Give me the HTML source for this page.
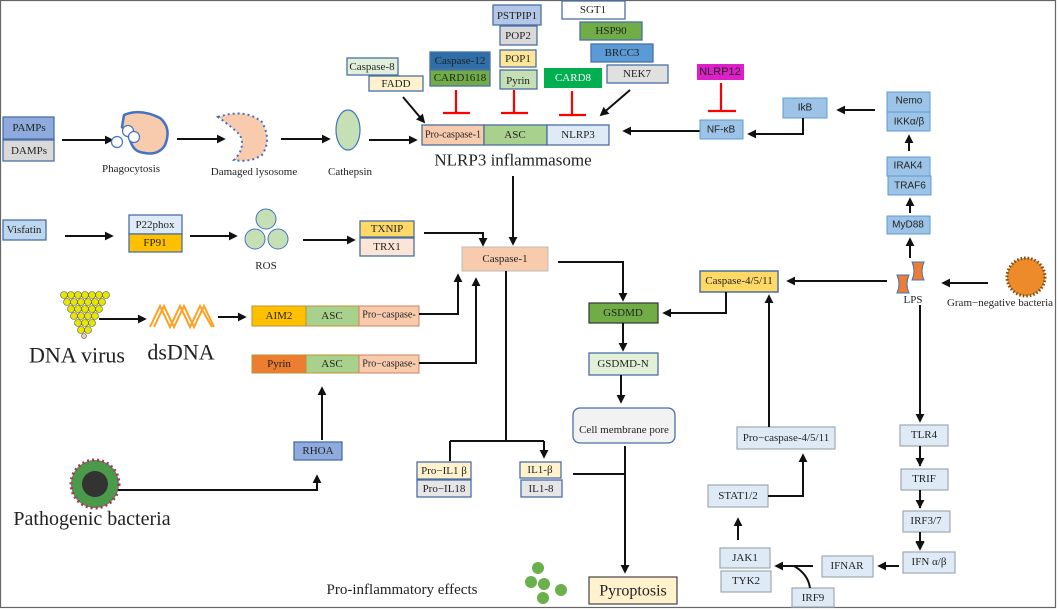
<!DOCTYPE html>
<html><head><meta charset="utf-8"><style>
body{margin:0;background:#fff;}
svg{display:block;}
text{font-family:"Liberation Serif",serif;font-size:11px;fill:#222;text-anchor:middle;dominant-baseline:central;}
.s{font-family:"Liberation Sans",sans-serif;}
.b{stroke:#4a6fa5;stroke-width:1.3;}
.g{stroke:#9aa8b8;stroke-width:1.2;}
.l{stroke:#111;stroke-width:2;fill:none;}
.r{stroke:#f00;stroke-width:2.2;fill:none;}
</style></head><body>
<svg width="1058" height="611" viewBox="0 0 1058 611" xmlns="http://www.w3.org/2000/svg">
<defs>
<marker id="a" viewBox="0 0 10 10" refX="8" refY="5" markerWidth="4.5" markerHeight="4.5" orient="auto"><path d="M0,0L10,5L0,10z" fill="#111"/></marker>
</defs>
<rect x="0.5" y="0.5" width="1055" height="607" fill="#fff" stroke="#666" stroke-width="1.2"/>

<!-- top cluster -->
<rect x="347" y="58" width="51" height="17" fill="#e2efda" class="b"/><text x="372" y="67">Caspase-8</text>
<rect x="369" y="76" width="54" height="15" fill="#fff2cc" class="b"/><text x="396" y="84">FADD</text>
<rect x="430" y="52" width="60" height="17" fill="#2e6fa8" class="b"/><text x="460" y="61">Caspase-12</text>
<rect x="430" y="70" width="60" height="16" fill="#70ad47" class="b"/><text x="460" y="78">CARD1618</text>
<rect x="493" y="5" width="48" height="20" fill="#b4c7e7" class="b"/><text x="517" y="16">PSTPIP1</text>
<rect x="500" y="26" width="37" height="19" fill="#d9d9d9" class="b"/><text x="518" y="36">POP2</text>
<rect x="500" y="50" width="36" height="17" fill="#ffe699" class="b"/><text x="518" y="59">POP1</text>
<rect x="500" y="70" width="37" height="19" fill="#c5e0b4" class="b"/><text x="518" y="81">Pyrin</text>
<rect x="562" y="1" width="63" height="18" fill="#fff" class="b"/><text x="593" y="10">SGT1</text>
<rect x="580" y="22" width="62" height="18" fill="#70ad47" class="b"/><text x="611" y="31">HSP90</text>
<rect x="591" y="44" width="62" height="18" fill="#5b9bd5" class="b"/><text x="622" y="53">BRCC3</text>
<rect x="607" y="65" width="61" height="18" fill="#e0e0e0" class="b"/><text x="637" y="74">NEK7</text>
<rect x="544" y="68" width="58" height="20" fill="#00b050"/><text x="573" y="78" style="fill:#fff">CARD8</text>
<path class="r" d="M456,90V113M443,113H470M514,90V113M501,113H528M572,91V115M559,115H586"/>
<path class="l" d="M403,97L424,122" marker-end="url(#a)"/>
<path class="l" d="M630,90L601,115" marker-end="url(#a)"/>
<rect x="422" y="125" width="62" height="20" fill="#f8cbad" class="b"/><text x="453" y="135" style="font-size:10px">Pro-caspase-1</text>
<rect x="484" y="125" width="63" height="20" fill="#a9d18e" class="b"/><text x="515" y="135">ASC</text>
<rect x="547" y="125" width="62" height="20" fill="#deebf7" class="b"/><text x="578" y="135">NLRP3</text>
<text x="513" y="160" style="font-size:17px">NLRP3 inflammasome</text>
<path class="l" d="M700,131H624" marker-end="url(#a)"/>
<path class="l" d="M513,176V244" marker-end="url(#a)"/>

<!-- row 1 left -->
<rect x="3" y="117" width="51" height="22" fill="#8faadc" class="b"/><text x="29" y="128">PAMPs</text>
<rect x="3" y="140" width="51" height="21" fill="#d9d9d9" class="b"/><text x="29" y="151">DAMPs</text>
<path class="l" d="M62,140H112" marker-end="url(#a)"/>
<path d="M124,115 Q140,108 160,118 Q172,128 165,145 Q158,157 140,152 Q133,150 130,140 Q126,130 122,127 Z" fill="#f8cbad" stroke="#4472c4" stroke-width="2.5"/>
<circle cx="117" cy="142" r="5.5" fill="#fff" stroke="#4472c4" stroke-width="1.2"/>
<circle cx="128" cy="131" r="5.5" fill="#fff" stroke="#4472c4" stroke-width="1.2"/>
<circle cx="134" cy="137" r="5.5" fill="#fff" stroke="#4472c4" stroke-width="1.2"/>
<text x="131" y="169">Phagocytosis</text>
<path class="l" d="M177,139H224" marker-end="url(#a)"/>
<path d="M218,117 Q245,108 262,122 Q272,140 262,155 Q250,163 234,160 Q246,148 240,135 Q232,127 218,117Z" fill="#f8cbad" stroke="#4472c4" stroke-width="2" stroke-dasharray="2,3"/>
<text x="254" y="172">Damaged  lysosome</text>
<path class="l" d="M281,139H329" marker-end="url(#a)"/>
<ellipse cx="348" cy="130" rx="12" ry="20" fill="#c5e0b4" stroke="#4472c4" stroke-width="1.2"/>
<text x="350" y="172">Cathepsin</text>
<path class="l" d="M369,140H416" marker-end="url(#a)"/>

<!-- row 2 -->
<rect x="3" y="220" width="43" height="20" fill="#bdd7ee" class="b"/><text x="24" y="230">Visfatin</text>
<path class="l" d="M65,236H112" marker-end="url(#a)"/>
<rect x="129" y="215" width="53" height="19" fill="#deebf7" class="b"/><text x="155" y="225">P22phox</text>
<rect x="129" y="234" width="53" height="18" fill="#ffc000" class="b"/><text x="155" y="243">FP91</text>
<path class="l" d="M190,236H236" marker-end="url(#a)"/>
<circle cx="266" cy="219" r="10" fill="#c5e0b4" stroke="#4472c4"/>
<circle cx="255" cy="239" r="10" fill="#c5e0b4" stroke="#4472c4"/>
<circle cx="278" cy="239" r="10" fill="#c5e0b4" stroke="#4472c4"/>
<text x="266" y="266">ROS</text>
<path class="l" d="M303,240H354" marker-end="url(#a)"/>
<rect x="360" y="221" width="54" height="16" fill="#ffd966" class="b"/><text x="387" y="229">TXNIP</text>
<rect x="360" y="238" width="54" height="18" fill="#fbe5d6" class="b"/><text x="387" y="247">TRX1</text>
<path class="l" d="M424,233H483V245" marker-end="url(#a)"/>

<!-- Caspase-1 -->
<rect x="462" y="247" width="86" height="24" fill="#f8cbad" stroke="#bbb"/><text x="505" y="259">Caspase-1</text>
<path class="l" d="M558,262H623V300" marker-end="url(#a)"/>
<rect x="589" y="303" width="69" height="20" fill="#70ad47" stroke="#333" stroke-width="1.2"/><text x="623" y="313">GSDMD</text>
<rect x="700" y="271" width="78" height="21" fill="#ffd966" stroke="#4a6fa5" stroke-width="1.5"/><text x="739" y="281">Caspase-4/5/11</text>
<path class="l" d="M726,292V313H664" marker-end="url(#a)"/>
<path class="l" d="M623,323V350" marker-end="url(#a)"/>
<rect x="589" y="353" width="69" height="22" fill="#e2f0d9" class="b"/><text x="623" y="364">GSDMD-N</text>
<path class="l" d="M621,375V402" marker-end="url(#a)"/>
<rect x="573" y="408" width="102" height="35" rx="7" fill="#f2f2f2" class="b"/><text x="624" y="430">Cell membrane  pore</text>
<path class="l" d="M625,446V572" marker-end="url(#a)"/>
<path class="l" d="M573,474H625"/>
<rect x="589" y="577" width="88" height="27" fill="#fff2cc" stroke="#444" stroke-width="1.2"/><text x="633" y="591" style="font-size:16px">Pyroptosis</text>
<path class="l" d="M506,271V441M450,441H544M450,441V460M544,441V457" marker-end="url(#a)"/>
<path class="l" d="M450,441V461"/>
<rect x="417" y="462" width="54" height="17" fill="#fff2cc" class="b"/><text x="444" y="471">Pro−IL1 β</text>
<rect x="417" y="480" width="54" height="17" fill="#e7e6e6" class="b"/><text x="444" y="489">Pro−IL18</text>
<rect x="520" y="462" width="41" height="16" fill="#fff2cc" class="b"/><text x="540" y="470">IL1-β</text>
<rect x="521" y="480" width="41" height="17" fill="#e7e6e6" class="b"/><text x="541" y="489">IL1-8</text>

<!-- AIM2 / Pyrin rows -->
<rect x="252" y="306" width="54" height="20" fill="#ffc000" stroke="#c09030"/><text x="279" y="316">AIM2</text>
<rect x="306" y="306" width="53" height="20" fill="#a9d18e" stroke="#c09030"/><text x="332" y="316">ASC</text>
<rect x="359" y="306" width="60" height="20" fill="#f8cbad" stroke="#d08060"/><text x="389" y="315" style="font-size:10px">Pro−caspase-</text>
<path class="l" d="M419,314H458V275" marker-end="url(#a)"/>
<rect x="252" y="355" width="54" height="18" fill="#ed7d31" stroke="#c09030"/><text x="279" y="364">Pyrin</text>
<rect x="306" y="355" width="53" height="18" fill="#a9d18e" stroke="#c09030"/><text x="332" y="364">ASC</text>
<rect x="359" y="355" width="60" height="18" fill="#f8cbad" stroke="#d08060"/><text x="389" y="364" style="font-size:10px">Pro−caspase-</text>
<path class="l" d="M419,363H476V279" marker-end="url(#a)"/>
<g fill="#e6e600" stroke="#555" stroke-width="0.6">
<circle cx="64" cy="295" r="3.5"/><circle cx="71" cy="295" r="3.5"/><circle cx="78" cy="295" r="3.5"/><circle cx="85" cy="295" r="3.5"/><circle cx="92" cy="295" r="3.5"/><circle cx="99" cy="295" r="3.5"/><circle cx="106" cy="295" r="3.5"/>
<circle cx="67" cy="302" r="3.5"/><circle cx="74" cy="302" r="3.5"/><circle cx="81" cy="302" r="3.5"/><circle cx="88" cy="302" r="3.5"/><circle cx="95" cy="302" r="3.5"/><circle cx="102" cy="302" r="3.5"/>
<circle cx="71" cy="309" r="3.5"/><circle cx="78" cy="309" r="3.5"/><circle cx="85" cy="309" r="3.5"/><circle cx="92" cy="309" r="3.5"/><circle cx="99" cy="309" r="3.5"/>
<circle cx="74" cy="316" r="3.5"/><circle cx="81" cy="316" r="3.5"/><circle cx="88" cy="316" r="3.5"/><circle cx="95" cy="316" r="3.5"/>
<circle cx="78" cy="323" r="3.5"/><circle cx="85" cy="323" r="3.5"/><circle cx="92" cy="323" r="3.5"/>
<circle cx="81" cy="330" r="3.5"/><circle cx="88" cy="330" r="3.5"/><circle cx="84" cy="336" r="2.5" fill="#f8cbad"/>
</g>
<path class="l" d="M99,319H145" marker-end="url(#a)"/>
<path d="M150,327 L160,306 L170,327 L180,306 L190,327 L200,306 L212,327 M154,327 L164,306 L174,327 L184,306 L194,327 L204,306 L214,327" stroke="#ffa020" stroke-width="2" fill="none"/>
<path class="l" d="M218,317H245" marker-end="url(#a)"/>
<text x="77" y="355" style="font-size:22px">DNA virus</text>
<text x="181" y="352" style="font-size:22px">dsDNA</text>
<rect x="294" y="442" width="48" height="18" fill="#8faadc" class="b"/><text x="318" y="451">RHOA</text>
<path class="l" d="M322,440V388" marker-end="url(#a)"/>
<circle cx="95" cy="484" r="24" fill="#4a9a4a" stroke="#b0306a" stroke-width="3" stroke-dasharray="2,3"/>
<circle cx="95" cy="484" r="13" fill="#333"/>
<path class="l" d="M118,490H317V476" marker-end="url(#a)"/>
<text x="92" y="519" style="font-size:20px">Pathogenic bacteria</text>
<text x="402" y="590" style="font-size:15px">Pro-inflammatory effects</text>
<g fill="#6ab04c"><circle cx="538" cy="568" r="6"/><circle cx="531" cy="582" r="6"/><circle cx="544" cy="584" r="6"/><circle cx="561" cy="590" r="6"/><circle cx="543" cy="598" r="6"/></g>

<!-- right side -->
<rect x="697" y="64" width="47" height="16" fill="#dd1fc9"/><text x="720" y="72" class="s" style="fill:#222;font-size:11px">NLRP12</text>
<path class="r" d="M721,83V111M708,111H736"/>
<rect x="700" y="120" width="43" height="19" fill="#9dc3e6" stroke="#5b9bd5"/><text x="721" y="130" class="s" style="font-size:10px">NF-κB</text>
<rect x="783" y="98" width="44" height="20" fill="#9dc3e6" stroke="#5b9bd5"/><text x="805" y="108" class="s" style="font-size:10px">IkB</text>
<path class="l" d="M803,118V134H749" marker-end="url(#a)"/>
<path class="l" d="M875,110H838" marker-end="url(#a)"/>
<rect x="887" y="92" width="43" height="20" fill="#9dc3e6" stroke="#5b9bd5"/><text x="909" y="101" class="s" style="font-size:10px">Nemo</text>
<rect x="887" y="112" width="43" height="19" fill="#9dc3e6" stroke="#5b9bd5"/><text x="909" y="122" class="s" style="font-size:10px">IKKα/β</text>
<path class="l" d="M909,151V136" marker-end="url(#a)"/>
<rect x="887" y="157" width="43" height="19" fill="#9dc3e6" stroke="#5b9bd5"/><text x="908" y="166" class="s" style="font-size:10px">IRAK4</text>
<rect x="888" y="176" width="43" height="19" fill="#9dc3e6" stroke="#5b9bd5"/><text x="910" y="186" class="s" style="font-size:10px">TRAF6</text>
<path class="l" d="M910,213V199" marker-end="url(#a)"/>
<rect x="887" y="216" width="43" height="18" fill="#9dc3e6" stroke="#5b9bd5"/><text x="908" y="225" class="s" style="font-size:10px">MyD88</text>
<path class="l" d="M910,258V239" marker-end="url(#a)"/>
<path d="M897,275 h12 q-4,9 0,18 h-12 q4,-9 0,-18z" fill="#ed7d31" stroke="#4472c4"/>
<path d="M912,262 h12 q-4,9 0,18 h-12 q4,-9 0,-18z" fill="#ed7d31" stroke="#4472c4"/>
<text x="913" y="300">LPS</text>
<path class="l" d="M988,283H943" marker-end="url(#a)"/>
<circle cx="1026" cy="277" r="19" fill="#ed8a2a" stroke="#7a4a10" stroke-width="3" stroke-dasharray="1.5,2"/>
<text x="1000" y="303">Gram−negative bacteria</text>
<path class="l" d="M887,281H788" marker-end="url(#a)"/>
<path class="l" d="M920,305V421" marker-end="url(#a)"/>
<g style="fill:#deebf7" stroke="#a0a8b0" stroke-width="1.2">
<rect x="900" y="425" width="48" height="21"/><rect x="901" y="469" width="47" height="21"/><rect x="903" y="511" width="47" height="21"/><rect x="903" y="552" width="52" height="21"/>
<rect x="822" y="556" width="51" height="21"/><rect x="720" y="548" width="50" height="20"/><rect x="721" y="571" width="50" height="21"/><rect x="792" y="588" width="42" height="19"/>
<rect x="708" y="485" width="60" height="22"/><rect x="737" y="427" width="98" height="22"/>
</g>
<text x="924" y="435">TLR4</text><text x="924" y="479">TRIF</text><text x="926" y="521">IRF3/7</text><text x="929" y="562">IFN α/β</text>
<text x="847" y="566">IFNAR</text><text x="745" y="558">JAK1</text><text x="746" y="581">TYK2</text><text x="813" y="598">IRF9</text>
<text x="738" y="496">STAT1/2</text><text x="786" y="438">Pro−caspase-4/5/11</text>
<path class="l" d="M920,446V466M920,490V508M920,532V549" marker-end="url(#a)"/>
<path class="l" d="M920,446V465" marker-end="url(#a)"/><path class="l" d="M920,490V507" marker-end="url(#a)"/><path class="l" d="M920,532V548" marker-end="url(#a)"/>
<path class="l" d="M899,566H879" marker-end="url(#a)"/>
<path class="l" d="M813,566H776" marker-end="url(#a)"/>
<path class="l" d="M794,566 Q808,574 810,588"/>
<path class="l" d="M738,540V519" marker-end="url(#a)"/>
<path class="l" d="M768,496H803V455" marker-end="url(#a)"/>
<path class="l" d="M769,427V296" marker-end="url(#a)"/>
</svg>
</body></html>
